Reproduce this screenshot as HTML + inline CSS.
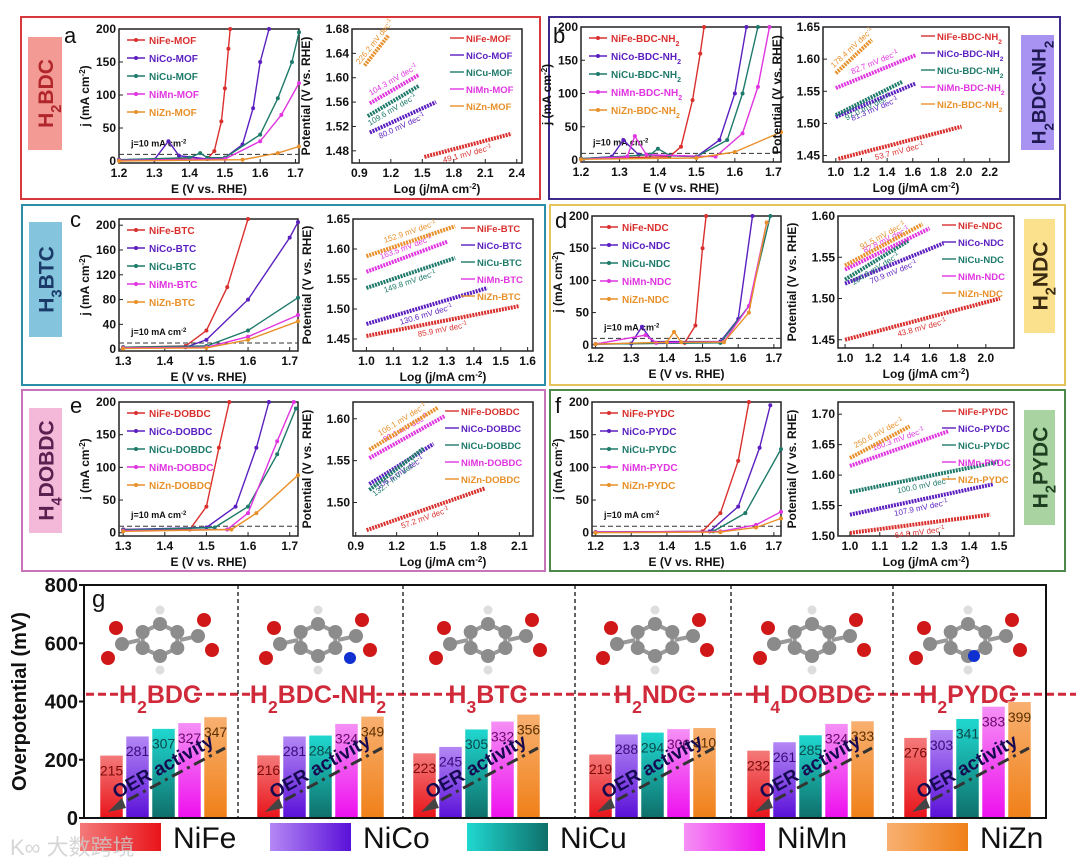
<!DOCTYPE html>
<html><head><meta charset="utf-8"><style>
html,body{margin:0;padding:0;background:#fff;}
svg{display:block;font-family:"Liberation Sans",Arial,sans-serif;}
</style></head><body>
<svg id="fig" width="1077" height="865" viewBox="0 0 1077 865" xmlns="http://www.w3.org/2000/svg">
<defs>
<linearGradient id="gFe" x1="0" y1="0" x2="0" y2="1"><stop offset="0" stop-color="#f47a7a"/><stop offset="1" stop-color="#e8141a"/></linearGradient>
<linearGradient id="gCo" x1="0" y1="0" x2="0" y2="1"><stop offset="0" stop-color="#b488f5"/><stop offset="1" stop-color="#5a10d8"/></linearGradient>
<linearGradient id="gCu" x1="0" y1="0" x2="0" y2="1"><stop offset="0" stop-color="#1fd8d0"/><stop offset="1" stop-color="#0f6f6a"/></linearGradient>
<linearGradient id="gMn" x1="0" y1="0" x2="0" y2="1"><stop offset="0" stop-color="#f590f5"/><stop offset="1" stop-color="#ee10ee"/></linearGradient>
<linearGradient id="gZn" x1="0" y1="0" x2="0" y2="1"><stop offset="0" stop-color="#f8b070"/><stop offset="1" stop-color="#f08018"/></linearGradient>
<linearGradient id="hFe" x1="0" y1="0" x2="1" y2="0"><stop offset="0" stop-color="#f47a7a"/><stop offset="1" stop-color="#e8141a"/></linearGradient>
<linearGradient id="hCo" x1="0" y1="0" x2="1" y2="0"><stop offset="0" stop-color="#b488f5"/><stop offset="1" stop-color="#5a10d8"/></linearGradient>
<linearGradient id="hCu" x1="0" y1="0" x2="1" y2="0"><stop offset="0" stop-color="#1fd8d0"/><stop offset="1" stop-color="#0f6f6a"/></linearGradient>
<linearGradient id="hMn" x1="0" y1="0" x2="1" y2="0"><stop offset="0" stop-color="#f590f5"/><stop offset="1" stop-color="#ee10ee"/></linearGradient>
<linearGradient id="hZn" x1="0" y1="0" x2="1" y2="0"><stop offset="0" stop-color="#f8b070"/><stop offset="1" stop-color="#f08018"/></linearGradient>
</defs>
</svg>
<script>
// ---------- bar chart data (panel g) ----------
const linkers = ["H2BDC","H2BDC-NH2","H3BTC","H2NDC","H4DOBDC","H2PYDC"];
const metals = ["NiFe","NiCo","NiCu","NiMn","NiZn"];
const valNiFe = [215,216,223,219,232,276];
const valNiCo = [281,281,245,288,261,303];
const valNiCu = [307,284,305,294,285,341];
const valNiMn = [327,324,332,306,324,383];
const valNiZn = [347,349,356,310,333,399];
const barTicks = [0,200,400,600,800];

// ---------- LSV / Tafel data (panels a-f) ----------
const seriesNames = ["NiFe","NiCo","NiCu","NiMn","NiZn"];
const lsvA = [[[1.2,2],[1.45,3],[1.47,15],[1.49,60],[1.5,110],[1.51,170],[1.515,200]],[[1.2,2],[1.3,2],[1.34,30],[1.37,8],[1.45,3],[1.5,5],[1.55,25],[1.58,80],[1.6,150],[1.625,200]],[[1.2,2],[1.4,5],[1.43,12],[1.45,5],[1.5,5],[1.6,40],[1.65,95],[1.69,150],[1.71,195]],[[1.2,1],[1.5,3],[1.6,30],[1.66,70],[1.71,118]],[[1.2,0],[1.55,2],[1.65,12],[1.71,22]]];
const lsvB = [[[1.2,2],[1.43,5],[1.46,20],[1.49,90],[1.51,160],[1.52,200]],[[1.2,2],[1.28,5],[1.31,30],[1.35,8],[1.5,5],[1.56,30],[1.6,100],[1.63,200]],[[1.2,2],[1.38,8],[1.4,17],[1.43,7],[1.5,5],[1.58,30],[1.62,100],[1.66,200]],[[1.2,1],[1.32,5],[1.34,36],[1.37,8],[1.55,5],[1.62,40],[1.66,110],[1.69,200]],[[1.2,1],[1.5,3],[1.6,12],[1.72,42]]];
const lsvC = [[[1.3,3],[1.45,5],[1.5,30],[1.55,100],[1.6,210]],[[1.3,3],[1.45,3],[1.5,15],[1.6,80],[1.7,180],[1.72,205]],[[1.3,3],[1.5,5],[1.6,30],[1.72,83]],[[1.3,2],[1.5,3],[1.6,20],[1.72,55]],[[1.3,1],[1.5,2],[1.6,15],[1.72,45]]];
const lsvD = [[[1.2,1],[1.45,3],[1.48,30],[1.5,150],[1.51,200]],[[1.2,1],[1.3,2],[1.33,28],[1.36,5],[1.55,5],[1.6,40],[1.64,200]],[[1.2,1],[1.55,3],[1.63,60],[1.69,200]],[[1.2,1],[1.34,15],[1.37,3],[1.56,5],[1.63,60],[1.68,190]],[[1.2,1],[1.4,4],[1.42,20],[1.44,4],[1.56,4],[1.63,50],[1.68,190]]];
const lsvE = [[[1.3,5],[1.46,5],[1.5,40],[1.53,130],[1.555,200]],[[1.3,5],[1.5,8],[1.57,40],[1.62,130],[1.65,200]],[[1.3,4],[1.52,8],[1.6,40],[1.67,120],[1.715,190]],[[1.3,3],[1.55,5],[1.6,30],[1.67,140],[1.71,200]],[[1.3,2],[1.56,5],[1.62,30],[1.72,88]]];
const lsvF = [[[1.2,1],[1.5,2],[1.55,30],[1.6,110],[1.63,200]],[[1.2,1],[1.52,2],[1.6,40],[1.66,130],[1.69,195]],[[1.2,1],[1.53,2],[1.62,30],[1.72,128]],[[1.2,1],[1.55,2],[1.65,12],[1.72,32]],[[1.2,0],[1.55,1],[1.65,8],[1.72,22]]];
const tafA = [[1.52,1.470,2.35,1.508],[1.0,1.510,1.63,1.560],[0.98,1.537,1.47,1.587],[1.0,1.558,1.47,1.605],[0.95,1.620,1.18,1.670]];
const tafB = [[1.02,1.445,1.98,1.495],[1.0,1.51,1.62,1.562],[1.0,1.513,1.52,1.565],[1.0,1.555,1.62,1.606],[1.0,1.578,1.28,1.63]];
const tafC = [[1.0,1.455,1.57,1.505],[1.0,1.475,1.45,1.535],[1.0,1.535,1.33,1.585],[1.0,1.562,1.3,1.612],[1.0,1.588,1.33,1.638]];
const tafD = [[1.0,1.45,2.1,1.50],[1.0,1.518,1.7,1.567],[1.0,1.523,1.45,1.570],[1.0,1.535,1.6,1.585],[1.0,1.54,1.55,1.59]];
const tafE = [[0.98,1.467,1.85,1.517],[1.0,1.522,1.47,1.570],[1.0,1.515,1.4,1.565],[1.0,1.553,1.55,1.603],[1.0,1.563,1.5,1.613]];
const tafF = [[1.0,1.505,1.47,1.535],[1.0,1.535,1.48,1.585],[1.0,1.572,1.5,1.622],[1.0,1.615,1.33,1.672],[1.0,1.628,1.2,1.68]];
const slopeA = ["49.1","80.0","109.6","104.3","226.2"];
const slopeB = ["53.7","81.3","97.0","82.7","178.4"];
const slopeC = ["85.9","130.6","149.8","163.5","152.9"];
const slopeD = ["43.8","70.9","104.6","82.8","91.5"];
const slopeE = ["57.2","106.6","132.7","93.1","106.1"];
const slopeF = ["64.8","107.9","100.0","180.3","250.6"];
const lsvXTicksA = [1.2,1.3,1.4,1.5,1.6,1.7];
const lsvXTicksC = [1.3,1.4,1.5,1.6,1.7];
const lsvYTicks50 = [0,50,100,150,200];
const lsvYTicks40 = [0,40,80,120,160,200];
const tafXTicksA = [0.9,1.2,1.5,1.8,2.1,2.4];
const tafXTicksB = [1.0,1.2,1.4,1.6,1.8,2.0,2.2];
const tafXTicksC = [1.0,1.1,1.2,1.3,1.4,1.5,1.6];
const tafXTicksD = [1.0,1.2,1.4,1.6,1.8,2.0];
const tafXTicksE = [0.9,1.2,1.5,1.8,2.1];
const tafXTicksF = [1.0,1.1,1.2,1.3,1.4,1.5];
const tafYTicksA = [1.48,1.52,1.56,1.60,1.64,1.68];
const tafYTicksB = [1.45,1.50,1.55,1.60,1.65];
const tafYTicksC = [1.45,1.50,1.55,1.60,1.65];
const tafYTicksD = [1.45,1.50,1.55,1.60];
const tafYTicksE = [1.50,1.55,1.60];
const tafYTicksF = [1.50,1.55,1.60,1.65,1.70];

const svg = document.getElementById('fig');
const NS = 'http://www.w3.org/2000/svg';
const COLORS = ["#d9302e","#5b1fc0","#1e7a6a","#e035e0","#e8902a"];
function el(tag, attrs, name, parent){
  const e = document.createElementNS(NS, tag);
  for (const k in attrs) e.setAttribute(k, attrs[k]);
  
  
  (parent || svg).appendChild(e);
  return e;
}
function subText(parent, x, y, str, attrs, name){
  const t = el('text', Object.assign({x:x, y:y}, attrs), name, parent);
  const parts = str.match(/[A-Za-z\-]+|\d+/g);
  parts.forEach(p=>{
    const ts = document.createElementNS(NS,'tspan');
    ts.textContent = p;
    if (/^\d+$/.test(p)) { ts.setAttribute('baseline-shift','sub'); ts.setAttribute('font-size','70%'); }
    t.appendChild(ts);
  });
  return t;
}
function scale(d0,d1,r0,r1){ return v => r0 + (v-d0)/(d1-d0)*(r1-r0); }
function fmt(v, dec){ return v.toFixed(dec); }

function axes(g, fr, xr, yr, xt, yt, xdec, ydec, xtitle, ytitle, key){
  const sx = scale(xr[0],xr[1],fr[0],fr[0]+fr[2]);
  const sy = scale(yr[0],yr[1],fr[1]+fr[3],fr[1]);
  el('rect',{x:fr[0],y:fr[1],width:fr[2],height:fr[3],fill:'none',stroke:'#222','stroke-width':1.5},key+'-frame',g);
  xt.forEach(v=>{
    const x = sx(v);
    el('line',{x1:x,y1:fr[1]+fr[3],x2:x,y2:fr[1]+fr[3]-4,stroke:'#222'},key+'-x-tick',g);
    const t = el('text',{x:x,y:fr[1]+fr[3]+14,'text-anchor':'middle','font-size':12,'font-weight':'bold',fill:'#111'},key+'-x-tick-label',g);
    t.textContent = fmt(v,xdec);
  });
  yt.forEach(v=>{
    const y = sy(v);
    el('line',{x1:fr[0],y1:y,x2:fr[0]+4,y2:y,stroke:'#222'},key+'-y-tick',g);
    const t = el('text',{x:fr[0]-3,y:y+4,'text-anchor':'end','font-size':12,'font-weight':'bold',fill:'#111'},key+'-y-tick-label',g);
    t.textContent = fmt(v,ydec);
  });
  const xtT = el('text',{x:fr[0]+fr[2]/2,y:fr[1]+fr[3]+30,'text-anchor':'middle','font-size':12,'font-weight':'bold',fill:'#111'},key+'-x-axis-title',g);
  xtT.innerHTML = xtitle;
  const ytT = el('text',{x:0,y:0,'text-anchor':'middle','font-size':12,'font-weight':'bold',fill:'#111',transform:`translate(${fr[0]-(ydec>0?42:30)},${fr[1]+fr[3]/2}) rotate(-90)`},key+'-y-axis-title',g);
  ytT.innerHTML = ytitle;
  return [sx,sy];
}

const panels = [
 {id:'a',border:[21,17,519,182],bc:'#d8383a',tag:[28,37,34,113],tc:'#f49a95',tt:'#b0262a',label:'H2BDC',lsv:[119,29,180,134],taf:[352,29,170,134],lx:[1.2,1.71],ly:[-3,200],lxt:lsvXTicksA,lyt:lsvYTicks50,tx:[0.83,2.45],ty:[1.46,1.68],txt:tafXTicksA,tyt:tafYTicksA,L:lsvA,T:tafA,S:slopeA,suf:'MOF',letter:[64,43]},
 {id:'b',border:[549,17,511,182],bc:'#3d2a8a',tag:[1021,35,33,115],tc:'#a892f2',tt:'#1d1850',label:'H2BDC-NH2',lsv:[581,27,200,135],taf:[823,27,186,135],lx:[1.2,1.72],ly:[-3,200],lxt:lsvXTicksA,lyt:lsvYTicks50,tx:[0.9,2.35],ty:[1.44,1.65],txt:tafXTicksB,tyt:tafYTicksB,L:lsvB,T:tafB,S:slopeB,suf:'BDC-NH2',letter:[553,43]},
 {id:'c',border:[22,205,523,180],bc:'#2c8fa8',tag:[29,222,33,115],tc:'#84c4dc',tt:'#1b3a6a',label:'H3BTC',lsv:[119,219,179,132],taf:[353,219,180,132],lx:[1.29,1.72],ly:[-3,210],lxt:lsvXTicksC,lyt:lsvYTicks40,tx:[0.95,1.62],ty:[1.43,1.65],txt:tafXTicksC,tyt:tafYTicksC,L:lsvC,T:tafC,S:slopeC,suf:'BTC',letter:[70,227]},
 {id:'d',border:[550,205,515,180],bc:'#e6c25a',tag:[1024,219,31,114],tc:'#fbe08e',tt:'#3a2a10',label:'H2NDC',lsv:[592,216,189,132],taf:[838,216,176,132],lx:[1.19,1.72],ly:[-5,200],lxt:lsvXTicksA,lyt:lsvYTicks50,tx:[0.95,2.2],ty:[1.44,1.60],txt:tafXTicksD,tyt:tafYTicksD,L:lsvD,T:tafD,S:slopeD,suf:'NDC',letter:[555,228]},
 {id:'e',border:[22,390,523,181],bc:'#c775b8',tag:[29,408,33,125],tc:'#f4b8d8',tt:'#5a2050',label:'H4DOBDC',lsv:[119,402,179,134],taf:[353,402,180,134],lx:[1.29,1.72],ly:[-5,200],lxt:lsvXTicksC,lyt:lsvYTicks50,tx:[0.88,2.2],ty:[1.46,1.62],txt:tafXTicksE,tyt:tafYTicksE,L:lsvE,T:tafE,S:slopeE,suf:'DOBDC',letter:[70,413]},
 {id:'f',border:[550,390,515,181],bc:'#4c8a4c',tag:[1024,410,31,115],tc:'#a9d4a2',tt:'#1f4020',label:'H2PYDC',lsv:[592,402,189,134],taf:[838,402,176,134],lx:[1.19,1.72],ly:[-5,200],lxt:lsvXTicksA,lyt:lsvYTicks50,tx:[0.96,1.55],ty:[1.50,1.72],txt:tafXTicksF,tyt:tafYTicksF,L:lsvF,T:tafF,S:slopeF,suf:'PYDC',letter:[555,413]}
];

panels.forEach(p=>{
  const g = el('g',{},'panel-'+p.id);
  el('rect',{x:p.border[0],y:p.border[1],width:p.border[2],height:p.border[3],fill:'none',stroke:p.bc,'stroke-width':2},'panel-'+p.id+'-border',g);
  el('rect',{x:p.tag[0],y:p.tag[1],width:p.tag[2],height:p.tag[3],fill:p.tc},'panel-'+p.id+'-linker-tag',g);
  const cx = p.tag[0]+p.tag[2]/2, cy = p.tag[1]+p.tag[3]/2;
  const tg = el('g',{transform:`translate(${cx+8},${cy}) rotate(-90)`},'panel-'+p.id+'-linker-label-group',g);
  subText(tg,0,0,p.label,{'text-anchor':'middle','font-size':p.label.length>7?19:21,'font-weight':'bold',fill:p.tt},'panel-'+p.id+'-linker-label');
  const lt = el('text',{x:p.letter[0],y:p.letter[1],'font-size':22,fill:'#111'},'panel-'+p.id+'-letter',g);
  lt.textContent = p.id;

  // LSV
  const [sx,sy] = axes(g,p.lsv,p.lx,p.ly,p.lxt,p.lyt,1,0,'E (V vs. RHE)','j (mA cm<tspan baseline-shift="super" font-size="8">-2</tspan>)','panel-'+p.id+'-lsv');
  const dy = sy(10);
  el('line',{x1:p.lsv[0],y1:dy,x2:p.lsv[0]+p.lsv[2],y2:dy,stroke:'#333','stroke-dasharray':'5,3','stroke-width':1},'panel-'+p.id+'-j10-line',g);
  const jt = el('text',{x:p.lsv[0]+12,y:dy-8,'font-size':9,'font-weight':'bold',fill:'#111'},'panel-'+p.id+'-j10-label',g);
  jt.innerHTML = 'j=10 mA cm<tspan baseline-shift="super" font-size="6">-2</tspan>';
  p.L.forEach((pts,i)=>{
    const d = pts.map(q=>sx(q[0]).toFixed(1)+','+Math.max(p.lsv[1],sy(q[1])).toFixed(1)).join(' ');
    el('polyline',{points:d,fill:'none',stroke:COLORS[i],'stroke-width':1.4},'panel-'+p.id+'-lsv-'+seriesNames[i],g);
    pts.forEach(q=>{ if(sy(q[1])>=p.lsv[1]) el('circle',{cx:sx(q[0]),cy:sy(q[1]),r:2,fill:COLORS[i]},'panel-'+p.id+'-lsv-point',g); });
    const ly = p.lsv[1]+14+i*18, lx = p.lsv[0]+8;
    el('line',{x1:lx,y1:ly-3,x2:lx+18,y2:ly-3,stroke:COLORS[i],'stroke-width':1.4},'panel-'+p.id+'-lsv-legend-line',g);
    el('circle',{cx:lx+9,cy:ly-3,r:2,fill:COLORS[i]},'panel-'+p.id+'-lsv-legend-marker',g);
    subText(g,lx+22,ly+1,seriesNames[i]+'-'+p.suf,{'font-size':10,'font-weight':'bold',fill:COLORS[i]},'panel-'+p.id+'-lsv-legend-entry');
  });

  // Tafel
  const [tx,ty] = axes(g,p.taf,p.tx,p.ty,p.txt,p.tyt,1,2,'Log (j/mA cm<tspan baseline-shift="super" font-size="8">-2</tspan>)','Potential (V vs. RHE)','panel-'+p.id+'-tafel');
  p.T.forEach((s,i)=>{
    const x1=tx(s[0]),y1=ty(s[1]),x2=tx(s[2]),y2=ty(s[3]);
    el('line',{x1:x1,y1:y1,x2:x2,y2:y2,stroke:COLORS[i],'stroke-width':4,'stroke-dasharray':'2,1'},'panel-'+p.id+'-tafel-'+seriesNames[i],g);
    const ang = Math.atan2(y2-y1,x2-x1)*180/Math.PI;
    const mx=(x1+x2)/2, my=(y1+y2)/2 + (i===4||i===3? -7 : 11);
    const st = el('text',{x:0,y:0,'text-anchor':'middle','font-size':8,fill:COLORS[i],transform:`translate(${mx},${my}) rotate(${ang})`},'panel-'+p.id+'-slope-label',g);
    st.innerHTML = p.S[i]+' mV dec<tspan baseline-shift="super" font-size="6">-1</tspan>';
    const ly = p.taf[1]+12+i*17, lx = p.taf[0]+p.taf[2]-(p.suf.length>4?88:72);
    el('line',{x1:lx,y1:ly-3,x2:lx+14,y2:ly-3,stroke:COLORS[i],'stroke-width':1.4},'panel-'+p.id+'-tafel-legend-line',g);
    subText(g,lx+16,ly+1,seriesNames[i]+'-'+p.suf,{'font-size':9.5,'font-weight':'bold',fill:COLORS[i]},'panel-'+p.id+'-tafel-legend-entry');
  });
});

// ---------- panel g: bar chart ----------
const gb = el('g',{},'panel-g');
const FR = {l:84,r:1046,t:585,b:818};
const by = scale(0,800,FR.b,FR.t);
const seps = [238,403,575,731,893];
const firstBar = [100,257,413,589,747,904];
const labelCenters = [160,318,488,655,812,968];
const series = [valNiFe,valNiCo,valNiCu,valNiMn,valNiZn];
const grads = ['gFe','gCo','gCu','gMn','gZn'];
const textCol = ['#7a0a0a','#3a0a7a','#0a4a4a','#6a0a6a','#5a3000'];
labelCenters.forEach((c,k)=>{
  const mg = el('g',{},'molecule-'+linkers[k]);
  const cy = 640, R = 20;
  const pts = [];
  for(let a=0;a<6;a++){ const th = Math.PI/6 + a*Math.PI/3; pts.push([c+R*Math.cos(th), cy+R*Math.sin(th)*0.8]); }
  pts.forEach((q,i)=>{ const n=pts[(i+1)%6]; el('line',{x1:q[0],y1:q[1],x2:n[0],y2:n[1],stroke:'#999','stroke-width':4},'molecule-bond',mg); });
  const sides = [[-1,1],[1,-1]];
  sides.forEach(sd=>{
    const ax = c+sd[0]*R*1.9, ay = cy+sd[1]*4;
    el('line',{x1:c+sd[0]*R,y1:cy,x2:ax,y2:ay,stroke:'#999','stroke-width':4},'molecule-bond',mg);
    el('circle',{cx:ax,cy:ay,r:7,fill:'#8a8a8a'},'molecule-carbon',mg);
    el('circle',{cx:ax+sd[0]*6,cy:ay-16,r:7,fill:'#d01818'},'molecule-oxygen',mg);
    el('circle',{cx:ax+sd[0]*14,cy:ay+14,r:7,fill:'#d01818'},'molecule-oxygen',mg);
  });
  pts.forEach(q=>el('circle',{cx:q[0],cy:q[1],r:7,fill:'#8c8c8c'},'molecule-carbon',mg));
  [[0,-R*1.5],[0,R*1.5]].forEach(o=>el('circle',{cx:c+o[0],cy:cy+o[1],r:4.5,fill:'#ddd'},'molecule-hydrogen',mg));
  if(k===1) el('circle',{cx:c+R*1.6,cy:cy+18,r:6,fill:'#1030d0'},'molecule-nitrogen',mg);
  if(k===5) el('circle',{cx:c+R*0.3,cy:cy+R*0.8,r:6,fill:'#1030d0'},'molecule-nitrogen',mg);
});
el('line',{x1:FR.l+2,y1:by(425),x2:FR.r+30,y2:by(425),stroke:'#d02a3a','stroke-width':3,'stroke-dasharray':'8,4'},'linker-divider-line',gb);
labelCenters.forEach((c,k)=>{
  const w = linkers[k].length*13;
  el('rect',{x:c-w/2,y:by(425)-18,width:w,height:30,fill:'#fff'},'linker-label-bg',gb);
  subText(gb,c,by(425)+9,linkers[k],{'text-anchor':'middle','font-size':25,'font-weight':'bold',fill:'#d02a3a'},'linker-label-'+linkers[k]);
});
series.forEach((arr,i)=>{
  arr.forEach((v,k)=>{
    const x = firstBar[k]+i*26, y = by(v);
    el('rect',{x:x,y:y,width:23,height:FR.b-y,fill:'url(#'+grads[i]+')',stroke:'#fff','stroke-width':0.5},'bar-'+metals[i]+'-'+linkers[k],gb);
    const t = el('text',{x:x+11.5,y:y+20,'text-anchor':'middle','font-size':14,fill:textCol[i]},'bar-value-label',gb);
    t.textContent = v;
  });
});
firstBar.forEach((x0,k)=>{
  const x1 = x0+8, y1 = 812, x2 = x0+125, y2 = 748;
  el('line',{x1:x1+20,y1:y1-12,x2:x2,y2:y2,stroke:'#333','stroke-width':3,'stroke-dasharray':'12,5,3,5'},'oer-trend-arrow',gb);
  el('polygon',{points:`${x1},${y1} ${x1+14},${y1-14} ${x1+18},${y1-4}`,fill:'#444'},'oer-arrow-head',gb);
  const t = el('text',{x:0,y:0,'text-anchor':'middle','font-size':19,'font-weight':'bold',fill:'#150a50',transform:`translate(${x0+66},${772}) rotate(-29)`},'oer-activity-label',gb);
  t.textContent = 'OER activity';
});
el('rect',{x:FR.l,y:FR.t,width:FR.r-FR.l,height:FR.b-FR.t,fill:'none',stroke:'#111','stroke-width':2},'bar-plot-frame',gb);
seps.forEach(x=>el('line',{x1:x,y1:FR.t,x2:x,y2:FR.b,stroke:'#111','stroke-width':1.3,'stroke-dasharray':'4,3'},'group-separator',gb));
barTicks.forEach(v=>{
  el('line',{x1:FR.l,y1:by(v),x2:FR.l-5,y2:by(v),stroke:'#111','stroke-width':2},'y-tick',gb);
  const t = el('text',{x:FR.l-6,y:by(v)+7,'text-anchor':'end','font-size':20,'font-weight':'bold',fill:'#111'},'y-tick-label',gb);
  t.textContent = v;
});
const yt = el('text',{x:0,y:0,'text-anchor':'middle','font-size':20,'font-weight':'bold',fill:'#111',transform:`translate(26,${(FR.t+FR.b)/2}) rotate(-90)`},'y-axis-title',gb);
yt.textContent = 'Overpotential (mV)';
const gl = el('text',{x:FR.l+8,y:FR.t+22,'font-size':24,fill:'#111'},'panel-g-letter',gb);
gl.textContent = 'g';
const legBox = [80,270,467,684,887];
metals.forEach((m,i)=>{
  el('rect',{x:legBox[i],y:823,width:81,height:28,fill:'url(#h'+m.slice(2)+')'},'legend-swatch-'+m,gb);
  const t = el('text',{x:legBox[i]+93,y:848,'font-size':30,fill:'#111'},'legend-label-'+m,gb);
  t.textContent = m;
});
const wm = el('text',{x:10,y:855,'font-size':22,fill:'#ccc','font-family':'"Liberation Sans","Noto Sans CJK SC",sans-serif',opacity:0.8},'watermark',gb);
wm.textContent = 'K∞ 大数跨境';
</script>
</body></html>
